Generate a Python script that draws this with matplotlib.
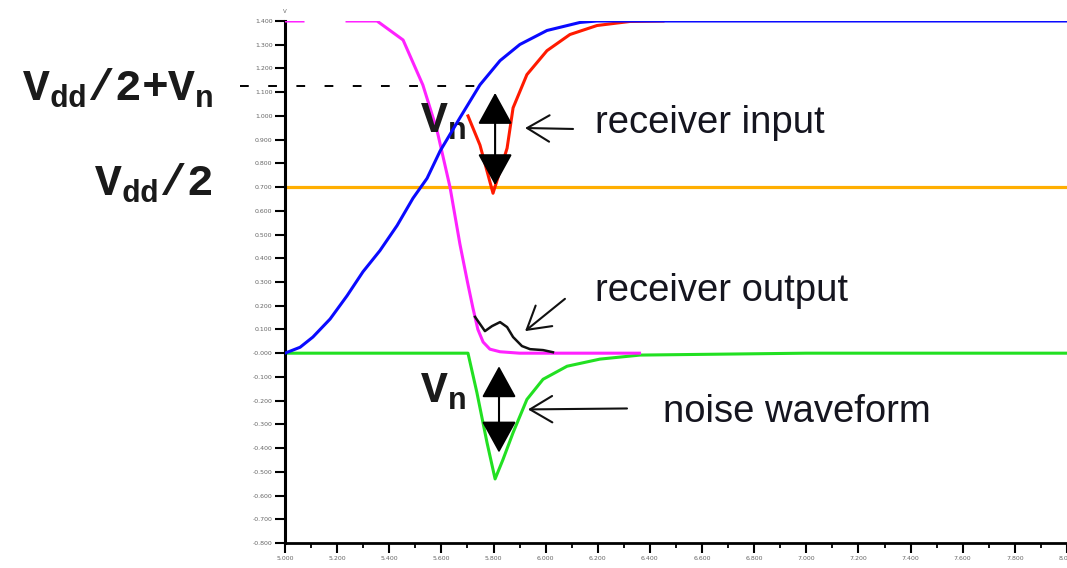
import matplotlib
matplotlib.use("Agg")
import matplotlib.pyplot as plt
import numpy as np
from matplotlib.patches import FancyArrowPatch

plt.rcParams["mathtext.fontset"] = "custom"
plt.rcParams["mathtext.tt"] = "Liberation Mono:bold"
plt.rcParams["mathtext.rm"] = "Liberation Mono:bold"

# time axis (ns) and voltages (V)
t_driver = [5.000, 5.058, 5.107, 5.173, 5.238, 5.299, 5.364, 5.430, 5.491,
            5.545, 5.595, 5.671, 5.748, 5.825, 5.901, 6.005, 6.132, 6.197, 8.000]
v_driver = [0.000, 0.025, 0.068, 0.144, 0.242, 0.343, 0.432, 0.538, 0.653,
            0.737, 0.852, 0.992, 1.131, 1.233, 1.301, 1.360, 1.394, 1.400, 1.400]

t_rx_in = [5.702, 5.748, 5.798, 5.852, 5.875, 5.928, 6.005, 6.093, 6.197, 6.323, 6.450]
v_rx_in = [1.000, 0.877, 0.674, 0.864, 1.034, 1.174, 1.275, 1.343, 1.381, 1.398, 1.400]

t_rx_out = [5.000, 5.069, 5.150, 5.238, 5.353, 5.453, 5.529, 5.583, 5.633, 5.671,
            5.700, 5.721, 5.740, 5.760, 5.786, 5.825, 5.900, 6.360]
v_rx_out = [1.400, 1.400, np.nan, 1.400, 1.400, 1.320, 1.130, 0.940, 0.700, 0.460,
            0.300, 0.190, 0.100, 0.047, 0.017, 0.006, 0.000, 0.000]

t_glitch = [5.729, 5.767, 5.794, 5.825, 5.852, 5.875, 5.909, 5.940, 5.990, 6.028]
v_glitch = [0.153, 0.093, 0.114, 0.131, 0.110, 0.068, 0.030, 0.017, 0.013, 0.004]

t_noise = [5.000, 5.702, 5.736, 5.775, 5.806, 5.836, 5.875, 5.928, 5.990,
           6.082, 6.208, 6.362, 7.000, 8.000]
v_noise = [0.000, 0.000, -0.165, -0.377, -0.530, -0.449, -0.335, -0.195, -0.110,
           -0.055, -0.025, -0.008, 0.000, 0.000]

vdd_half = 0.7
vn_level = 1.127

fig = plt.figure(figsize=(10.67, 5.68), dpi=100)
ax = fig.add_axes([285 / 1067, 1 - 543 / 568, 1 - 285 / 1067, 522 / 568])

ax.axhline(vdd_half, color="#ffae00", lw=2.3, zorder=1)
ax.plot(t_noise, v_noise, color="#22e022", lw=2.2, zorder=2)
ax.plot(t_rx_out, v_rx_out, color="#ff22ff", lw=2.2, zorder=3)
ax.plot(t_rx_in, v_rx_in, color="#ff1a00", lw=2.2, zorder=4)
ax.plot(t_driver, v_driver, color="#0a0aff", lw=2.2, zorder=5)
ax.plot(t_glitch, v_glitch, color="#111111", lw=1.8, zorder=6)

# dashed Vdd/2 + Vn marker
ax.plot([4.827, 5.775], [vn_level, vn_level], color="black", lw=1.4,
        dashes=(4.5, 10), clip_on=False, zorder=6)

ax.set_xlim(5.0, 8.0)
ax.set_ylim(-0.8, 1.4)
ax.set_xticks(np.arange(5.0, 8.001, 0.2))
ax.set_xticks(np.arange(5.1, 8.0, 0.2), minor=True)
ax.set_yticks(np.arange(-0.8, 1.401, 0.1))
ax.xaxis.set_major_formatter(matplotlib.ticker.FormatStrFormatter("%.3f"))
ax.yaxis.set_major_formatter(matplotlib.ticker.FormatStrFormatter("%.3f"))
ax.tick_params(axis="both", which="major", length=7, width=1.5,
               labelsize=4.5, labelcolor="#666666", pad=2)
ax.tick_params(axis="x", which="minor", length=3.5, width=1.3)
for side in ("top", "right"):
    ax.spines[side].set_visible(False)
ax.spines["left"].set_linewidth(2.2)
ax.spines["bottom"].set_linewidth(2.0)
ax.text(5.0, 1.43, "V", fontsize=4, color="#666666", ha="center", va="bottom")

# labels on the left
tt = dict(fontsize=32, color="#1a1a1a", ha="right", va="baseline", clip_on=False)
ax.text(4.728, 1.064, r"$\mathtt{V_{dd}/2{+}V_{n}}$", **tt)
ax.text(4.720, 0.665, r"$\mathtt{V_{dd}/2}$", **tt)
tt["ha"] = "left"
ax.text(5.518, 0.928, r"$\mathtt{V_{n}}$", **tt)
ax.text(5.518, -0.208, r"$\mathtt{V_{n}}$", **tt)

sans = dict(fontsize=27.5, family="Liberation Sans", color="#15151f",
            ha="left", va="baseline")
ax.text(6.189, 0.928, "receiver input", **sans)
ax.text(6.189, 0.220, "receiver output", **sans)
ax.text(6.450, -0.288, "noise waveform", **sans)


def double_arrow(x, y0, y1):
    ax.add_patch(FancyArrowPatch((x, y0), (x, y1),
                                 arrowstyle="<|-|>,head_length=20,head_width=11",
                                 color="black", lw=1.5, shrinkA=0, shrinkB=0,
                                 zorder=7))


def open_arrow(tail, tip):
    ax.add_patch(FancyArrowPatch(tail, tip,
                                 arrowstyle="->,head_length=16,head_width=9.5",
                                 color="#111111", lw=1.5, shrinkA=0, shrinkB=0,
                                 zorder=7))


double_arrow(5.806, 0.708, 1.097)
double_arrow(5.821, -0.419, -0.055)
open_arrow((6.105, 0.945), (5.921, 0.949))
open_arrow((6.074, 0.229), (5.921, 0.093))
open_arrow((6.312, -0.233), (5.932, -0.237))

fig.savefig("out.png", dpi=100)
